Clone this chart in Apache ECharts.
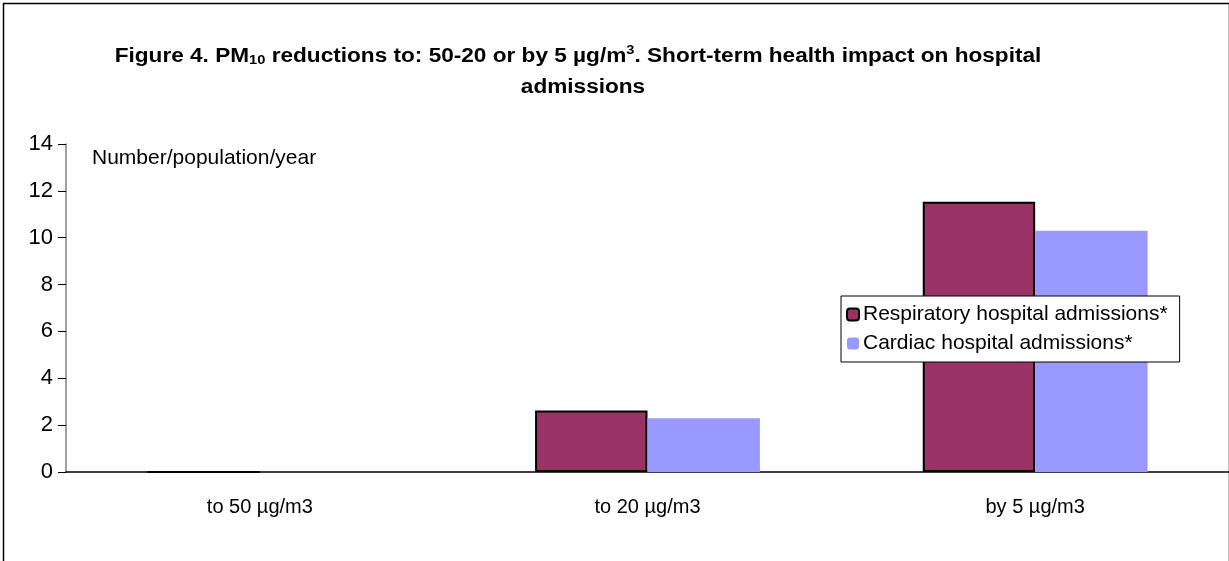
<!DOCTYPE html>
<html>
<head>
<meta charset="utf-8">
<script src="https://cdn.jsdelivr.net/npm/echarts@6/dist/echarts.min.js"></script>
<style>
  html, body { margin: 0; padding: 0; background: #fff; }
</style>
</head>
<body>
<div id="chart" style="width: 1229px; height: 561px;"></div>
<script>
// data
var categories = ['to 50 µg/m3', 'to 20 µg/m3', 'by 5 µg/m3']
var respiratory = [0, 2.62, 11.53]
var cardiac = [0, 2.29, 10.3]
var seriesNames = ['Respiratory hospital admissions*', 'Cardiac hospital admissions*']

var myChart = echarts.init(document.getElementById('chart'))
var font = 'Liberation Sans, Arial, sans-serif'

myChart.setOption({
  backgroundColor: '#fff',
  animation: false,
  textStyle: { fontFamily: font },
  graphic: [{
    type: 'rect',
    left: 1, top: 1,
    shape: { width: 1226, height: 620 },
    style: { fill: 'none', stroke: '#000', lineWidth: 1.5 }
  }, {
    // title, line 1 (stretched a little like the original)
    type: 'text',
    x: 578, y: 56,
    scaleX: 1.13,
    style: {
      text: 'Figure 4. PM{sub|10} reductions to: 50-20 or by 5 µg/m{sup|3}. Short-term health impact on hospital',
      align: 'center', verticalAlign: 'middle',
      font: 'bold 20px ' + font, fill: '#000',
      rich: {
        sub: { font: 'bold 13px ' + font, fill: '#000', padding: [9, 0, 0, 0] },
        sup: { font: 'bold 13px ' + font, fill: '#000', padding: [0, 0, 11, 0] }
      }
    }
  }, {
    type: 'text',
    x: 583, y: 87,
    scaleX: 1.13,
    style: {
      text: 'admissions', align: 'center', verticalAlign: 'middle',
      font: 'bold 20px ' + font, fill: '#000'
    }
  }, {
    type: 'text',
    x: 92, y: 158,
    style: {
      text: 'Number/population/year', verticalAlign: 'middle',
      font: '21px ' + font, fill: '#000'
    }
  }],
  legend: {
    data: seriesNames,
    orient: 'vertical',
    left: 841, top: 296,
    backgroundColor: '#fff',
    borderColor: '#000',
    borderWidth: 1,
    borderRadius: 0,
    padding: [8, 12, 8, 5],
    itemGap: 8,
    itemWidth: 12, itemHeight: 12,
    textStyle: { fontSize: 21, color: '#000', padding: [0, 0, 0, -1] }
  },
  grid: { left: 66, right: -2, top: 144, bottom: 89, containLabel: false },
  xAxis: {
    type: 'category',
    data: categories,
    axisLine: { lineStyle: { color: '#000', width: 1.5 } },
    axisTick: { show: false },
    axisLabel: { color: '#000', fontSize: 20, margin: 25 }
  },
  yAxis: {
    type: 'value',
    min: 0, max: 14, interval: 2,
    axisLine: { show: true, lineStyle: { color: '#808080', width: 1.5 } },
    axisTick: { show: true, length: 8, lineStyle: { color: '#000' } },
    axisLabel: { color: '#000', fontSize: 22, margin: 13 },
    splitLine: { show: false }
  },
  series: [{
    name: seriesNames[0],
    type: 'bar',
    data: respiratory,
    barWidth: '29%',
    barGap: '0%',
    itemStyle: { color: '#993366', borderColor: '#000', borderWidth: 2 }
  }, {
    name: seriesNames[1],
    type: 'bar',
    data: cardiac,
    barWidth: '29%',
    itemStyle: { color: '#9999ff' }
  }]
})
</script>
</body>
</html>
